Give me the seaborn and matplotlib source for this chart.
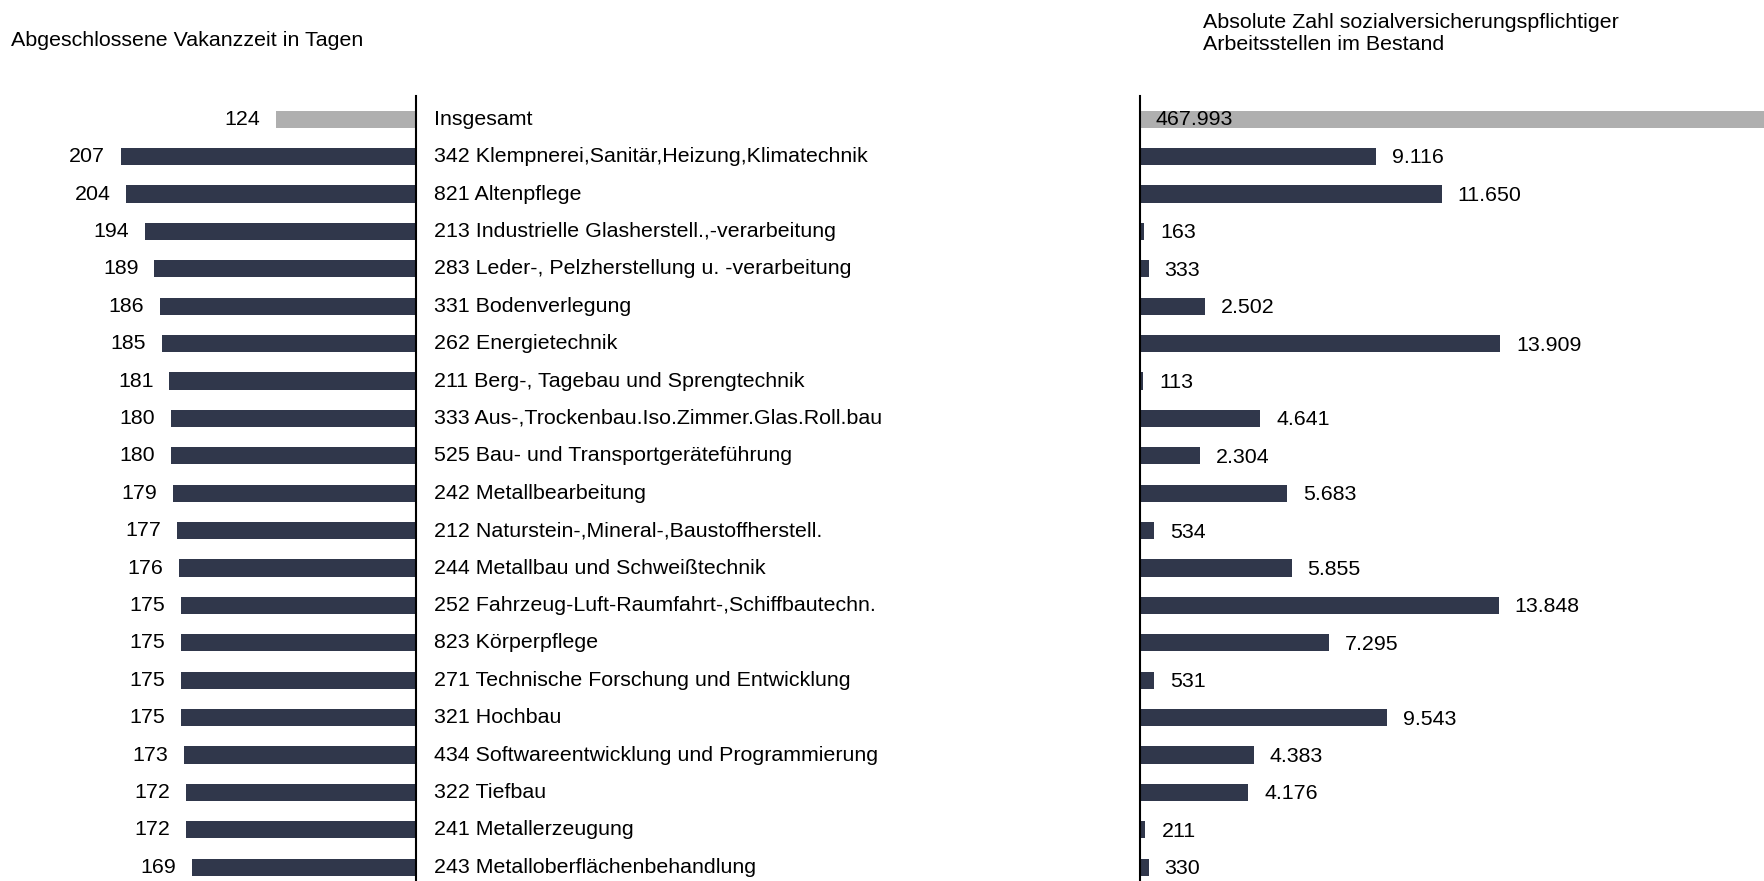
import seaborn as sns
import matplotlib.pyplot as plt
import matplotlib.transforms as mtransforms
import pandas as pd

# Daten
berufe = [
    "Insgesamt",
    "342 Klempnerei,Sanitär,Heizung,Klimatechnik",
    "821 Altenpflege",
    "213 Industrielle Glasherstell.,-verarbeitung",
    "283 Leder-, Pelzherstellung u. -verarbeitung",
    "331 Bodenverlegung",
    "262 Energietechnik",
    "211 Berg-, Tagebau und Sprengtechnik",
    "333 Aus-,Trockenbau.Iso.Zimmer.Glas.Roll.bau",
    "525 Bau- und Transportgeräteführung",
    "242 Metallbearbeitung",
    "212 Naturstein-,Mineral-,Baustoffherstell.",
    "244 Metallbau und Schweißtechnik",
    "252 Fahrzeug-Luft-Raumfahrt-,Schiffbautechn.",
    "823 Körperpflege",
    "271 Technische Forschung und Entwicklung",
    "321 Hochbau",
    "434 Softwareentwicklung und Programmierung",
    "322 Tiefbau",
    "241 Metallerzeugung",
    "243 Metalloberflächenbehandlung",
]
vakanzzeit = [124, 207, 204, 194, 189, 186, 185, 181, 180, 180, 179,
              177, 176, 175, 175, 175, 175, 173, 172, 172, 169]
bestand = [467993, 9116, 11650, 163, 333, 2502, 13909, 113, 4641, 2304, 5683,
           534, 5855, 13848, 7295, 531, 9543, 4383, 4176, 211, 330]
gruppe = ["gesamt"] + ["beruf"] * (len(berufe) - 1)

df = pd.DataFrame({"beruf": berufe, "tage": vakanzzeit,
                   "bestand": bestand, "gruppe": gruppe})
farben = {"gesamt": "#AFAFAF", "beruf": "#30374B"}

sns.set_style("white")
plt.rcParams["font.family"] = ["Liberation Sans", "DejaVu Sans"]
plt.rcParams["font.size"] = 15.4
plt.rcParams["text.color"] = "black"

W, H = 1765, 881
fig = plt.figure(figsize=(W / 100, H / 100), dpi=100)

top = 96
bottom = -5
ax_l = fig.add_axes([0, bottom / H, 416 / W, (H - top - bottom) / H])
ax_r = fig.add_axes([1140 / W, bottom / H, (W - 1140) / W, (H - top - bottom) / H])

# Linke Seite: Vakanzzeit
sns.barplot(data=df, x="tage", y="beruf", hue="gruppe", palette=farben,
            orient="h", width=0.46, legend=False, ax=ax_l, saturation=1,
            linewidth=0)
ax_l.set_xlim(271.6, 49.1)
ax_l.set_ylim(20.5, -0.62)

for i, v in enumerate(vakanzzeit):
    ax_l.annotate(str(v), xy=(v, i), xytext=(-11.5, 0), textcoords="offset points",
                  ha="right", va="center")

# Berufsbezeichnungen in der Mitte
trans = mtransforms.blended_transform_factory(fig.transFigure, ax_l.transData)
for i, b in enumerate(berufe):
    ax_l.text(434.5 / W, i, b, transform=trans, ha="left", va="center",
              clip_on=False)

# Rechte Seite: Bestand
sns.barplot(data=df, x="bestand", y="beruf", hue="gruppe", palette=farben,
            orient="h", width=0.46, legend=False, ax=ax_r, saturation=1,
            linewidth=0)
ax_r.set_xlim(0, 24130)
ax_r.set_ylim(20.5, -0.62)

for i, v in enumerate(bestand):
    txt = f"{v:,}".replace(",", ".")
    if i == 0:
        ax_r.annotate(txt, xy=(0, i), xytext=(11, 0), textcoords="offset points",
                      ha="left", va="center")
    else:
        ax_r.annotate(txt, xy=(v, i), xytext=(11.5, -1), textcoords="offset points",
                      ha="left", va="center")

for ax in (ax_l, ax_r):
    ax.set_xlabel("")
    ax.set_ylabel("")
    ax.set_xticks([])
    ax.set_yticks([])
    for s in ax.spines.values():
        s.set_visible(False)
    ax.patch.set_alpha(0)

ax_l.spines["right"].set_visible(True)
ax_l.spines["right"].set_color("black")
ax_l.spines["right"].set_linewidth(1.5)
ax_r.spines["left"].set_visible(True)
ax_r.spines["left"].set_color("black")
ax_r.spines["left"].set_linewidth(1.5)

# Titel
fig.text(11 / W, 1 - 40 / H, "Abgeschlossene Vakanzzeit in Tagen",
         ha="left", va="center")
fig.text(1203 / W, 1 - 34 / H,
         "Absolute Zahl sozialversicherungspflichtiger\nArbeitsstellen im Bestand",
         ha="left", va="center")

fig.savefig("out.png", dpi=100)
